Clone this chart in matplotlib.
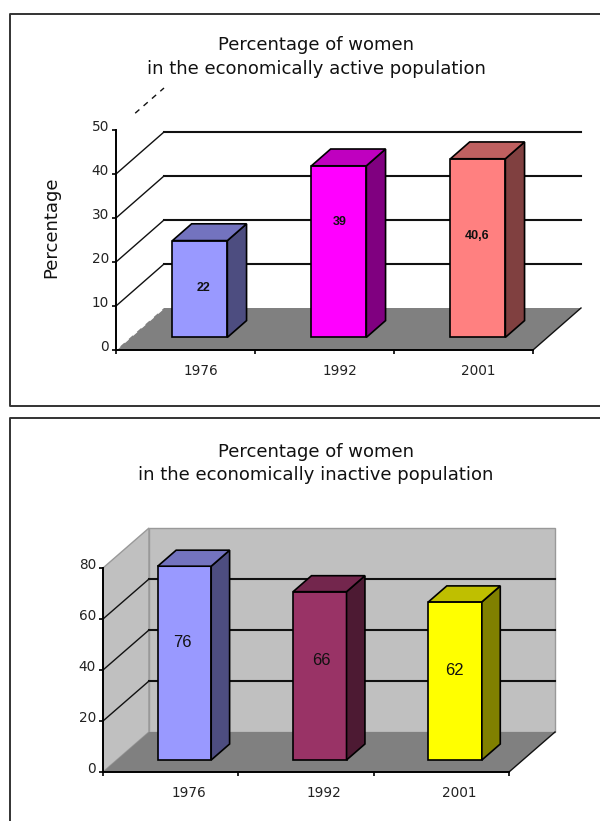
import matplotlib
matplotlib.use("Agg")
import matplotlib.pyplot as plt
from matplotlib.patches import Polygon
from matplotlib.lines import Line2D
from matplotlib.transforms import ScaledTranslation

plt.rcParams['font.family'] = ['DejaVu Sans']

W, H = 600, 821

# the two charts
years = ["1976", "1992", "2001"]
active_values = [22, 39, 40.6]
active_labels = ["22", "39", "40,6"]
active_label_x = [0.13, 0.11, 0.1]
active_label_y = [14.1, 29.1, 25.9]
active_ticks = [0, 10, 20, 30, 40, 50]
inactive_values = [76, 66, 62]
inactive_labels = ["76", "66", "62"]
inactive_label_x = [0.09, 0.11, 0.1]
inactive_label_y = [50.7, 43.6, 39.7]
inactive_ticks = [0, 20, 40, 60, 80]

active_colors = [("#9999FF", "#7373BF", "#4D4D80"),
                 ("#FF00FF", "#BF00BF", "#800080"),
                 ("#FF8080", "#BF6060", "#804040")]
inactive_colors = [("#9999FF", "#7373BF", "#4D4D80"),
                   ("#993366", "#73264D", "#4D1A33"),
                   ("#FFFF00", "#BFBF00", "#808000")]

fig = plt.figure(figsize=(W / 100, H / 100), dpi=100)


def px_text(x, y, s, **kw):
    fig.text(x / W, 1 - y / H, s, ha="center", va="center", color="#111111", **kw)


def frame(xs, ys):
    fig.add_artist(Line2D([x / W for x in xs], [1 - y / H for y in ys], color="#333333", lw=1.4))


def draw_chart(box, vals, labels, label_x, label_y, ticks, colors, depth, xshift, bar_w, walls, label_font):
    left, right, bottom, top = box
    ax = fig.add_axes([left / W, 1 - bottom / H, (right - left) / W, (bottom - top) / H])
    ax.set_xlim(0, 3)
    ax.set_ylim(0, ticks[-1])
    ax.patch.set_visible(False)
    ax.spines[["top", "right"]].set_visible(False)
    for s in ["left", "bottom"]:
        ax.spines[s].set_linewidth(1.4)
    dx, dy = depth
    ymax = ticks[-1]

    # bar depth sits between 0.3 and 0.7 of the floor
    def proj(x, v, d):
        return x + d * dx, v + d * dy

    if walls:
        ax.add_patch(Polygon([proj(0, 0, 0), proj(0, ymax, 0), proj(0, ymax, 1), proj(0, 0, 1)],
                             fc="#C0C0C0", ec="#999999", lw=1, clip_on=False, zorder=1))
        ax.add_patch(Polygon([proj(0, 0, 1), proj(0, ymax, 1), proj(3, ymax, 1), proj(3, 0, 1)],
                             fc="#C0C0C0", ec="#999999", lw=1, clip_on=False, zorder=1))
    ax.add_patch(Polygon([proj(0, 0, 0), proj(3, 0, 0), proj(3, 0, 1), proj(0, 0, 1)],
                         fc="#808080", ec="none", clip_on=False, zorder=1.5))

    # gridlines on the back wall and their diagonals on the side wall
    for t in ticks[1:-1]:
        xa, ya = proj(0, t, 1)
        xb, yb = proj(3, t, 1)
        ax.plot([xa, xb], [ya, yb], color="#111111", lw=1.5, clip_on=False, zorder=2)
        xc, yc = proj(0, t, 0)
        ax.plot([xc, xa], [yc, ya], color="#111111", lw=1.0, clip_on=False, zorder=2)
    if not walls:
        xa, ya = proj(0, ymax, 0.4)
        xb, yb = proj(0, ymax, 1)
        ax.plot([xa, xb], [ya, yb], color="#111111", lw=1.0, ls=(0, (4, 4)), clip_on=False, zorder=2)
        xa, ya = proj(0, 0, 0)
        xb, yb = proj(0, 0, 1)
        ax.plot([xa, xb], [ya, yb], color="white", lw=1.0, ls=(0, (4, 4)), clip_on=False, zorder=2)
    xa, ya = proj(3, 0, 0)
    xb, yb = proj(3, 0, 1)
    ax.plot([xa, xb], [ya, yb], color="#111111", lw=1.0, clip_on=False, zorder=2)

    # bars
    for i, v in enumerate(vals):
        x0 = i + 0.5 - bar_w / 2
        x1 = i + 0.5 + bar_w / 2
        front, top_c, side = colors[i]
        ax.add_patch(Polygon([proj(x0, 0, 0.3), proj(x1, 0, 0.3), proj(x1, v, 0.3), proj(x0, v, 0.3)],
                             fc=front, ec="black", lw=1.2, clip_on=False, zorder=3))
        ax.add_patch(Polygon([proj(x1, 0, 0.3), proj(x1, 0, 0.7), proj(x1, v, 0.7), proj(x1, v, 0.3)],
                             fc=side, ec="black", lw=1.2, clip_on=False, zorder=3))
        ax.add_patch(Polygon([proj(x0, v, 0.3), proj(x1, v, 0.3), proj(x1, v, 0.7), proj(x0, v, 0.7)],
                             fc=top_c, ec="black", lw=1.2, clip_on=False, zorder=3))
        lx, ly = proj(i + 0.5, label_y[i], 0)
        ax.text(lx + label_x[i], ly, labels[i], ha="center", va="center", zorder=4, color="#111111",
                **label_font)

    ax.set_yticks(ticks)
    ax.set_xticks([0, 1, 2, 3])
    ax.set_xticklabels([])
    ax.set_xticks([0.5, 1.5, 2.5], minor=True)
    ax.set_xticklabels(years, minor=True)
    ax.tick_params(axis="both", which="major", length=3, width=1.2, labelsize=9.8,
                   labelcolor="#222222", pad=2)
    ax.tick_params(axis="x", which="minor", length=0, labelsize=9.8, labelcolor="#222222", pad=10)
    up = ScaledTranslation(0, 3 / 72, fig.dpi_scale_trans)
    for lab in ax.get_yticklabels():
        lab.set_transform(lab.get_transform() + up)
    shift = ScaledTranslation(xshift / 100, 0, fig.dpi_scale_trans)
    for lab in ax.get_xticklabels(minor=True):
        lab.set_transform(lab.get_transform() + shift)
    return ax


frame([600, 9.5, 9.5, 600], [14, 14, 406, 406])
frame([600, 9.5, 9.5], [418, 418, 821])

px_text(316, 45, "Percentage of women", fontsize=13)
px_text(316, 69, "in the economically active population", fontsize=13)
px_text(316, 452, "Percentage of women", fontsize=13)
px_text(316, 475, "in the economically inactive population", fontsize=13)

draw_chart((116, 533, 350, 130), active_values, active_labels, active_label_x, active_label_y, active_ticks,
           active_colors, (48 / 139, 42 / 4.4), 15, 0.395, False,
           {"fontsize": 9, "family": "Liberation Sans", "fontweight": "bold"})
fig.text(51 / W, 1 - 227 / H, "Percentage", rotation=90, ha="center", va="center",
         fontsize=13, color="#111111")

draw_chart((103, 509, 772, 568), inactive_values, inactive_labels, inactive_label_x, inactive_label_y, inactive_ticks,
           inactive_colors, (46 / 135.3, 40 / 2.55), 18, 0.395, True,
           {"fontsize": 12, "family": "Liberation Sans"})

fig.savefig("out.png", dpi=100)
